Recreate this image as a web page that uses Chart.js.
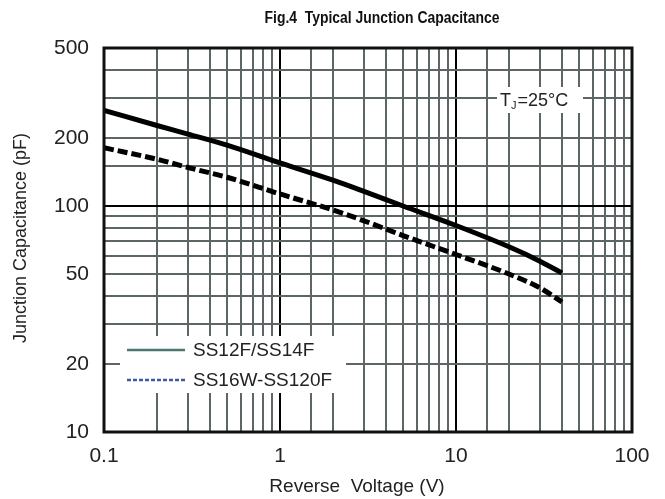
<!DOCTYPE html>
<html>
<head>
<meta charset="utf-8">
<script src="https://cdn.jsdelivr.net/npm/chart.js@4.4.0/dist/chart.umd.min.js"></script>
<style>
  html, body { margin: 0; padding: 0; background: #fff; }
  #wrap { width: 665px; height: 499px; position: relative; }
</style>
</head>
<body>
<div id="wrap"><canvas id="capChart"></canvas></div>
<script>
// values (reverse voltage in V, capacitance in pF)
const voltage = [0.1, 0.2, 0.3, 0.5, 1, 2, 3, 5, 10, 20, 30, 40];
const capSS12F = [265, 227, 208, 186, 155, 130, 116, 100, 82, 66, 57, 50.5];
const capSS16W = [181, 161, 148, 134, 113, 96, 86, 74, 61, 50, 43.4, 37.6];

const seriesNames = ['SS12F/SS14F', 'SS16W-SS120F'];
const xTickLabels = [0.1, 1, 10, 100];
const yTickLabels = [10, 20, 50, 100, 200, 500];

const FONT = '"Liberation Sans", Arial, sans-serif';

function isDecade(v) {
  const l = Math.log10(v);
  return Math.abs(l - Math.round(l)) < 1e-6;
}
function shown(list, v) {
  return list.some(t => Math.abs(t - v) / t < 1e-6);
}

// extra drawing: frame, title, axis titles, legend and the Tj note
const decor = {
  id: 'decor',
  afterDraw(chart) {
    const { ctx, chartArea: a } = chart;
    ctx.save();

    // legend box
    ctx.fillStyle = '#fff';
    ctx.fillRect(120, 336, 226, 57);
    ctx.lineWidth = 2.5;
    ctx.strokeStyle = '#4d7770';
    ctx.beginPath(); ctx.moveTo(127, 350); ctx.lineTo(185, 350); ctx.stroke();
    ctx.strokeStyle = '#41599a';
    ctx.setLineDash([4, 2]);
    ctx.beginPath(); ctx.moveTo(127, 380); ctx.lineTo(185, 380); ctx.stroke();
    ctx.setLineDash([]);
    ctx.fillStyle = '#222';
    ctx.font = '19px ' + FONT;
    ctx.textAlign = 'left';
    ctx.textBaseline = 'middle';
    ctx.fillText(seriesNames[0], 193, 351);
    ctx.fillText(seriesNames[1], 193, 381);

    // Tj note
    ctx.fillStyle = '#fff';
    ctx.fillRect(497, 87, 86, 26);
    ctx.fillStyle = '#222';
    ctx.font = '18px ' + FONT;
    ctx.fillText('T', 500, 101);
    let x = 500 + ctx.measureText('T').width;
    ctx.font = '11px ' + FONT;
    ctx.fillText('J', x, 106);
    x += ctx.measureText('J').width + 1;
    ctx.font = '18px ' + FONT;
    ctx.fillText('=25°C', x, 101);

    // frame
    ctx.strokeStyle = '#111';
    ctx.lineWidth = 3;
    ctx.strokeRect(a.left, a.top, a.right - a.left, a.bottom - a.top);

    // axis titles
    ctx.fillStyle = '#222';
    ctx.textAlign = 'center';
    ctx.font = '19px ' + FONT;
    ctx.fillText('Reverse  Voltage (V)', 357, 487);
    ctx.save();
    ctx.translate(21, 238);
    ctx.rotate(-Math.PI / 2);
    ctx.font = '18px ' + FONT;
    ctx.fillText('Junction Capacitance (pF)', 0, 0);
    ctx.restore();

    // chart title, a little condensed like the datasheet
    ctx.translate(382, 19);
    ctx.scale(0.87, 1);
    ctx.fillStyle = '#111';
    ctx.font = 'bold 16px ' + FONT;
    ctx.fillText('Fig.4  Typical Junction Capacitance', 0, 0);
    ctx.restore();
  }
};

const gridColor = c => (c.tick && isDecade(c.tick.value)) ? '#000' : '#5c6666';

new Chart(document.getElementById('capChart'), {
  type: 'line',
  data: {
    datasets: [
      {
        label: seriesNames[0],
        data: voltage.map((v, i) => ({ x: v, y: capSS12F[i] })),
        borderColor: '#000',
        borderWidth: 5,
        pointRadius: 0,
        cubicInterpolationMode: 'monotone',
        fill: false
      },
      {
        label: seriesNames[1],
        data: voltage.map((v, i) => ({ x: v, y: capSS16W[i] })),
        borderColor: '#000',
        borderWidth: 5,
        borderDash: [10, 4],
        pointRadius: 0,
        cubicInterpolationMode: 'monotone',
        fill: false
      }
    ]
  },
  options: {
    responsive: true,
    maintainAspectRatio: false,
    animation: false,
    layout: { padding: { top: 48, right: 33, left: 0, bottom: 0 } },
    plugins: { legend: { display: false }, tooltip: { enabled: false } },
    scales: {
      x: {
        type: 'logarithmic',
        min: 0.1,
        max: 100,
        afterFit(s) { s.height = 67; },
        border: { display: false },
        grid: { color: gridColor, lineWidth: 2, drawTicks: false },
        ticks: {
          autoSkip: false,
          maxRotation: 0,
          padding: 12,
          color: '#222',
          font: { family: FONT, size: 21 },
          callback: v => shown(xTickLabels, v) ? String(v) : ''
        }
      },
      y: {
        type: 'logarithmic',
        min: 10,
        max: 500,
        afterFit(s) { s.width = 104; },
        border: { display: false },
        grid: { color: gridColor, lineWidth: 2, drawTicks: false },
        ticks: {
          autoSkip: false,
          padding: 15,
          color: '#222',
          font: { family: FONT, size: 21 },
          callback: v => shown(yTickLabels, v) ? String(v) : ''
        }
      }
    }
  },
  plugins: [decor]
});
</script>
</body>
</html>
